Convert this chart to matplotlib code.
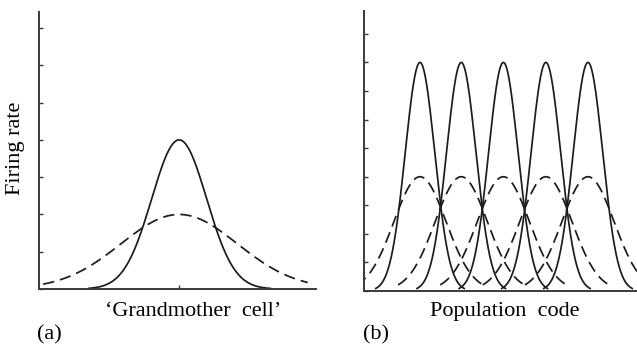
import matplotlib.pyplot as plt
import numpy as np

# Panel (a): one broadly tuned "grandmother" unit
GM_CENTER = 5.06
GM_SOLID_PEAK = 4.0
GM_SOLID_WIDTH = 0.99
GM_SOLID_SPAN = (1.8, 8.35)
GM_DASH_PEAK = 2.0
GM_DASH_WIDTH = 2.1
GM_DASH_SPAN = (0.15, 9.7)

# Panel (b): population of tuned units
POP_CENTERS = [1.33, 2.31, 3.31, 4.32, 5.32]
POP_SOLID_PEAK = 8.0
POP_SOLID_WIDTH = 0.35
POP_SOLID_HALF_SPAN = 1.05
POP_DASH_PEAK = 4.0
POP_DASH_WIDTH = 0.62
POP_DASH_HALF_SPAN = 1.5

LEFT_YTICKS = list(range(8))
RIGHT_YTICKS = list(range(10))

LINE_COLOR = "#1c1c1c"
SPINE_COLOR = "#3a3a3a"
SERIF = ["Liberation Serif", "DejaVu Serif"]


def tuning_curve(center, peak, width, lo, hi):
    x = np.linspace(lo, hi, 300)
    return x, peak * np.exp(-((x - center) ** 2) / (2 * width**2))


def style_axes(ax, yticks):
    for side in ("top", "right"):
        ax.spines[side].set_visible(False)
    for side in ("left", "bottom"):
        ax.spines[side].set_color(SPINE_COLOR)
        ax.spines[side].set_linewidth(1.4)
    ax.set_yticks(yticks)
    ax.tick_params(direction="in", length=3, width=1, color=SPINE_COLOR,
                   labelleft=False, labelbottom=False)


fig = plt.figure(figsize=(6.37, 3.48), dpi=100, facecolor="white")

# (a) grandmother cell
ax_a = fig.add_axes([39 / 637, 59 / 348, 277 / 637, 277 / 348])
x, y = tuning_curve(GM_CENTER, GM_SOLID_PEAK, GM_SOLID_WIDTH, *GM_SOLID_SPAN)
ax_a.plot(x, y, color=LINE_COLOR, lw=1.25, clip_on=False)
x, y = tuning_curve(GM_CENTER, GM_DASH_PEAK, GM_DASH_WIDTH, *GM_DASH_SPAN)
ax_a.plot(x, y, color=LINE_COLOR, lw=1.25, dashes=(6.5, 3.5), clip_on=False)
ax_a.set_xlim(0, 10)
ax_a.set_ylim(0, 7.43)
style_axes(ax_a, LEFT_YTICKS)
ax_a.set_xticks([GM_CENTER])

# (b) population code
ax_b = fig.add_axes([364 / 637, 57 / 348, 273 / 637, 280 / 348])
for c in POP_CENTERS:
    x, y = tuning_curve(c, POP_SOLID_PEAK, POP_SOLID_WIDTH,
                        c - POP_SOLID_HALF_SPAN, c + POP_SOLID_HALF_SPAN)
    ax_b.plot(x, y, color=LINE_COLOR, lw=1.25)
    x, y = tuning_curve(c, POP_DASH_PEAK, POP_DASH_WIDTH,
                        c - POP_DASH_HALF_SPAN, c + POP_DASH_HALF_SPAN)
    ax_b.plot(x, y, color=LINE_COLOR, lw=1.25, dashes=(6.5, 3.5))
ax_b.set_xlim(0, 273 / 42.1)
ax_b.set_ylim(0, 9.8)
style_axes(ax_b, RIGHT_YTICKS)
ax_b.set_xticks([])


# labels (figure pixel coordinates, origin top-left)
def px(x, y):
    return x / 637, 1 - y / 348


fs = 16
fig.text(*px(16, 148), "Firing rate", rotation=90, ha="center", va="center",
         fontsize=fs, family=SERIF)
fig.text(*px(193, 316), "\u2018Grandmother  cell\u2019", ha="center", va="baseline",
         fontsize=fs, family=SERIF)
fig.text(*px(505, 316), "Population  code", ha="center", va="baseline",
         fontsize=fs, family=SERIF)
fig.text(*px(37, 339), "(a)", ha="left", va="baseline", fontsize=fs, family=SERIF)
fig.text(*px(363, 339), "(b)", ha="left", va="baseline", fontsize=fs, family=SERIF)

fig.savefig("out.png", dpi=100, facecolor="white")
